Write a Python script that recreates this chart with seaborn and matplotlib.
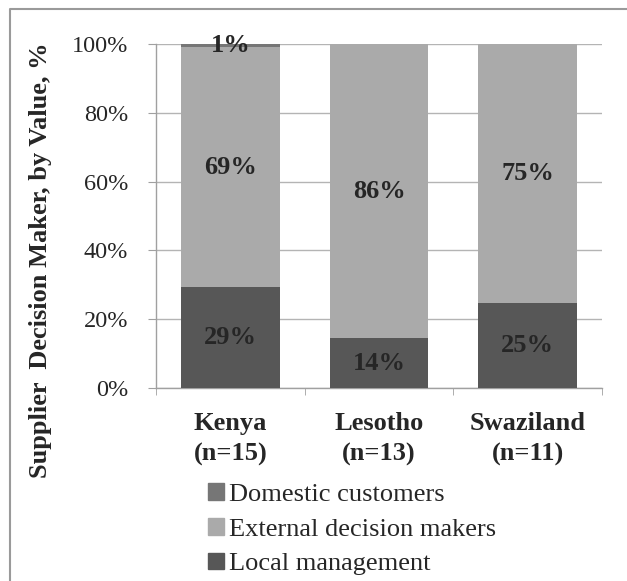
import numpy as np
import pandas as pd
import matplotlib
matplotlib.use("Agg")
import matplotlib.pyplot as plt
import matplotlib.patches as mpatches
import matplotlib.lines as mlines
import seaborn as sns

countries = ["Kenya\n(n=15)", "Lesotho\n(n=13)", "Swaziland\n(n=11)"]
local_mgmt = [29.4, 14.4, 24.8]
external = [69.6, 85.6, 75.2]
domestic = [1.0, 0.0, 0.0]
local_labels = ["29%", "14%", "25%"]
external_labels = ["69%", "86%", "75%"]
domestic_labels = ["1%", "", ""]

c_local = "#575757"
c_ext = "#aaaaaa"
c_dom = "#767676"

sns.set_style("white")
plt.rcParams["font.family"] = ["Liberation Serif", "DejaVu Serif"]

df = pd.DataFrame({"country": countries,
                   "local": local_mgmt,
                   "external": external,
                   "domestic": domestic})
df["lx"] = df["local"] + df["external"]
df["total"] = df["lx"] + df["domestic"]

fig = plt.figure(figsize=(6.27, 5.81), dpi=100)
ax = fig.add_axes([156 / 627, 1 - 388 / 581, 446 / 627, 344 / 581])

# stacked bars drawn back to front (cumulative heights)
for col, c in [("total", c_dom), ("lx", c_ext), ("local", c_local)]:
    sns.barplot(data=df, x="country", y=col, color=c, width=0.665,
                saturation=1, ax=ax, zorder=3, linewidth=0, edgecolor="none")

for i in range(len(countries)):
    ax.text(i, local_mgmt[i] / 2, local_labels[i], ha="center", va="center",
            fontsize=19, fontweight="bold", zorder=5)
    ax.text(i, local_mgmt[i] + external[i] / 2, external_labels[i], ha="center",
            va="center", fontsize=19, fontweight="bold", zorder=5)
    if domestic_labels[i]:
        ax.text(i, 99.5, domestic_labels[i], ha="center", va="center",
                fontsize=19, fontweight="bold", zorder=5)

ax.set_ylim(0, 100)
ax.set_xlim(-0.5, 2.5)
ax.set_yticks(np.arange(0, 101, 20))
ax.set_yticklabels([f"{v}%" for v in range(0, 101, 20)], fontsize=17.5)
ax.tick_params(axis="y", length=6, color="#a0a0a0", direction="out", pad=14, left=True)
ax.set_xticks([-0.5, 0.5, 1.5, 2.5], minor=True)
ax.tick_params(axis="x", which="major", length=0, pad=17)
ax.tick_params(axis="x", which="minor", length=5, color="#a0a0a0", direction="out", bottom=True)
for lab in ax.get_xticklabels():
    lab.set_fontweight("bold")
    lab.set_fontsize(19)
    lab.set_linespacing(1.45)
ax.set_xlabel("")
ax.set_ylabel("")
fig.text(41 / 627, 1 - 260 / 581, "Supplier  Decision Maker, by Value, %",
         rotation=90, ha="center", va="center", fontsize=19, fontweight="bold")
ax.yaxis.grid(True, color="#b4b4b4", linewidth=1, zorder=0)
ax.set_axisbelow(True)
for s in ["top", "right"]:
    ax.spines[s].set_visible(False)
for s in ["left", "bottom"]:
    ax.spines[s].set_color("#a0a0a0")
    ax.spines[s].set_linewidth(1)

handles = [mpatches.Patch(color=c_dom, label="Domestic customers"),
           mpatches.Patch(color=c_ext, label="External decision makers"),
           mpatches.Patch(color=c_local, label="Local management")]
fig.legend(handles=handles, loc="upper left", bbox_to_anchor=(208 / 627, 1 - 483 / 581),
           frameon=False, fontsize=19, handlelength=0.6, handleheight=0.6,
           handletextpad=0.2, labelspacing=0.46, borderaxespad=0, borderpad=0)

# outer frame (top and left edges visible in the original crop)
fig.add_artist(mlines.Line2D([10 / 627, 10 / 627, 1], [0, 1 - 9 / 581, 1 - 9 / 581],
                             transform=fig.transFigure, color="#9a9a9a", linewidth=1.5))

fig.savefig("out.png", dpi=100)
